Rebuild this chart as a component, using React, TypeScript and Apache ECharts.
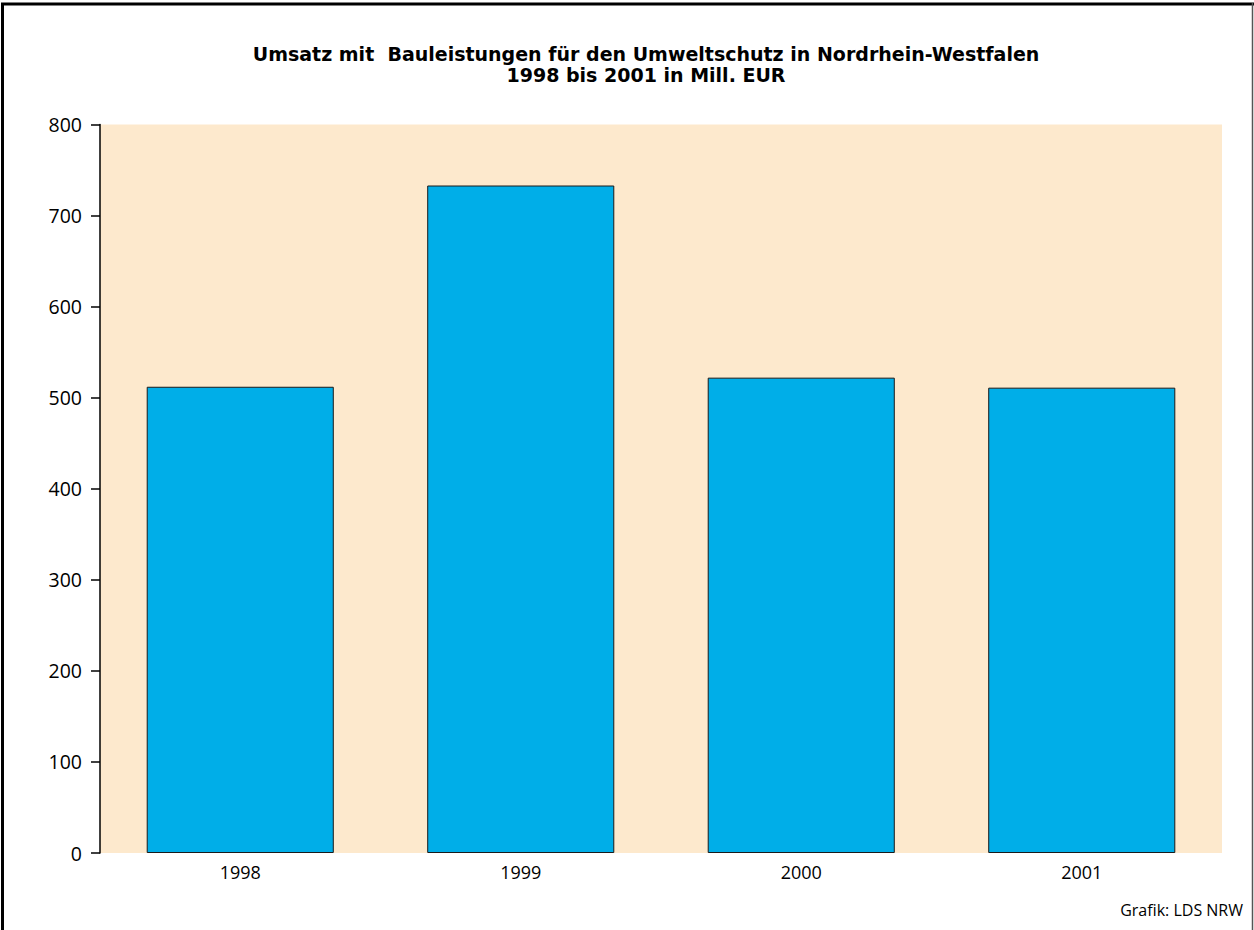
import React, { useEffect, useRef } from "react";
import * as echarts from "echarts";

const categories = ["1998", "1999", "2000", "2001"];
const values = [512, 733, 522, 511];
const yTicks = [0, 100, 200, 300, 400, 500, 600, 700, 800];
const titleLines = [
  "Umsatz mit  Bauleistungen für den Umweltschutz in Nordrhein-Westfalen",
  "1998 bis 2001 in Mill. EUR",
];
const sourceText = "Grafik: LDS NRW";

const FONT = "'Open Sans', 'Noto Sans', sans-serif";
const TITLE_FONT = "'DejaVu Sans', 'Open Sans', sans-serif";

export default function App() {
  const ref = useRef<HTMLDivElement>(null);
  useEffect(() => {
    if (!ref.current) return;
    const chart = echarts.init(ref.current, undefined, { renderer: "svg" });
    chart.setOption({
      animation: false,
      backgroundColor: "#ffffff",
      grid: {
        left: 100,
        right: 32,
        top: 124.5,
        bottom: 77,
        show: true,
        backgroundColor: "#FDE9CD",
        borderWidth: 0,
      },
      xAxis: {
        type: "category",
        data: categories,
        axisLine: { show: false },
        axisTick: { show: false },
        axisLabel: { color: "#000", fontSize: 18, fontFamily: FONT, margin: 10 },
      },
      yAxis: {
        type: "value",
        min: yTicks[0],
        max: yTicks[yTicks.length - 1],
        interval: 100,
        axisLine: { show: true, lineStyle: { color: "#000", width: 1.5 } },
        axisTick: { show: true, length: 9, lineStyle: { color: "#000", width: 1.5 } },
        splitLine: { show: false },
        axisLabel: { color: "#000", fontSize: 19.5, fontFamily: FONT, margin: 18 },
      },
      series: [
        {
          type: "bar",
          data: values,
          barCategoryGap: "33.3%",
          itemStyle: { color: "#00AEE8", borderColor: "#1a1a1a", borderWidth: 1 },
        },
      ],
      graphic: [
        {
          type: "text",
          x: 646,
          y: 64,
          style: {
            text: titleLines.join("\n"),
            textAlign: "center",
            textVerticalAlign: "middle",
            fontSize: 19,
            lineHeight: 21,
            fontWeight: "bold",
            fontFamily: TITLE_FONT,
            fill: "#000",
          },
        },
        {
          type: "text",
          right: 11,
          top: 902,
          style: {
            text: sourceText,
            fontSize: 16,
            fontFamily: FONT,
            fill: "#000",
          },
        },
        {
          type: "line",
          shape: { x1: 1, y1: 4, x2: 1254, y2: 4 },
          style: { stroke: "#000", lineWidth: 3 },
        },
        {
          type: "line",
          shape: { x1: 2.5, y1: 3, x2: 2.5, y2: 930 },
          style: { stroke: "#000", lineWidth: 3 },
        },
        {
          type: "line",
          shape: { x1: 1252.5, y1: 3, x2: 1252.5, y2: 930 },
          style: { stroke: "#555", lineWidth: 1.5 },
        },
      ],
    });
    return () => chart.dispose();
  }, []);
  return (
    <div
      ref={ref}
      style={{ position: "fixed", left: 0, top: 0, width: 1254, height: 930 }}
    />
  );
}
